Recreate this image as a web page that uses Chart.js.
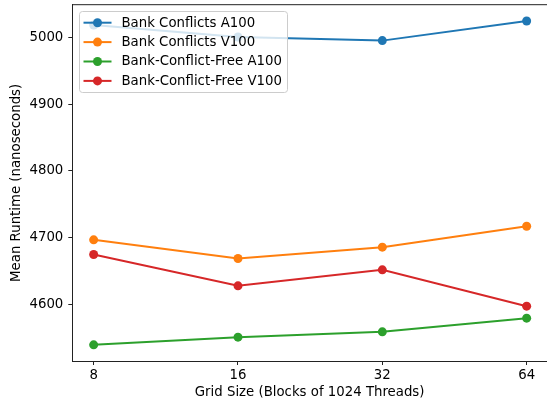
<!DOCTYPE html>
<html lang="en">
<head>
<meta charset="UTF-8">
<title>Mean Runtime vs Grid Size</title>
<style>
  html, body { margin: 0; padding: 0; background: #ffffff; }
  canvas { display: block; }
</style>
</head>
<body>
<canvas id="chart" width="547" height="405"></canvas>

<script src="https://cdn.jsdelivr.net/npm/chart.js"></script>
<script>
    // values
    const gridSizes = ['8', '16', '32', '64'];
    const bankConflictsA100 = [5019, 5001, 4995.5, 5025];
    const bankConflictsV100 = [4696.5, 4668.5, 4685.5, 4717];
    const conflictFreeA100 = [4539, 4550.5, 4558.5, 4579];
    const conflictFreeV100 = [4674.5, 4627.5, 4651.5, 4597];
    const yTicks = [4600, 4700, 4800, 4900, 5000];

    const seriesNames = ['Bank Conflicts A100', 'Bank Conflicts V100', 'Bank-Conflict-Free A100', 'Bank-Conflict-Free V100'];
    const seriesColors = ['#1f77b4', '#ff7f0e', '#2ca02c', '#d62728'];
    const seriesValues = [bankConflictsA100, bankConflictsV100, conflictFreeA100, conflictFreeV100];

    const FONT = 'DejaVu Sans';
    const FSIZE = 13.3;
    const AXIS = '#222222';

    function makeDataset(i) {
        return {
            label: seriesNames[i],
            data: seriesValues[i].map((v, k) => ({x: k, y: v})),
            borderColor: seriesColors[i],
            backgroundColor: seriesColors[i],
            borderWidth: 2,
            pointRadius: 4.5,
            pointBorderWidth: 0,
            pointBackgroundColor: seriesColors[i],
            tension: 0
        };
    }

    // matplotlib style: top spine + legend box inside the axes
    const boxPlugin = {
        id: 'boxPlugin',
        afterDraw(chart) {
            const ctx = chart.ctx;
            const a = chart.chartArea;
            ctx.save();
            ctx.strokeStyle = AXIS;
            ctx.lineWidth = 1;
            ctx.beginPath();
            ctx.moveTo(a.left, a.top);
            ctx.lineTo(a.right, a.top);
            ctx.stroke();

            // legend
            const lx = 79.5, ly = 11.5, lw = 208, lh = 81;
            ctx.beginPath();
            ctx.roundRect(lx, ly, lw, lh, 3);
            ctx.fillStyle = 'rgba(255,255,255,0.8)';
            ctx.fill();
            ctx.strokeStyle = '#cccccc';
            ctx.stroke();

            ctx.font = FSIZE + 'px "' + FONT + '"';
            ctx.textBaseline = 'middle';
            ctx.textAlign = 'left';
            chart.data.datasets.forEach((ds, i) => {
                const y = 22.7 + i * 19.4;
                ctx.strokeStyle = ds.borderColor;
                ctx.lineWidth = 2;
                ctx.beginPath();
                ctx.moveTo(83.5, y);
                ctx.lineTo(111.5, y);
                ctx.stroke();
                ctx.fillStyle = ds.borderColor;
                ctx.beginPath();
                ctx.arc(97.5, y, 4.5, 0, Math.PI * 2);
                ctx.fill();
                ctx.fillStyle = '#000000';
                ctx.fillText(ds.label, 121.5, y + 0.5);
            });
            ctx.restore();
        }
    };

    const ctx = document.getElementById('chart').getContext('2d');
    const chart = new Chart(ctx, {
        type: 'line',
        data: {
            datasets: [0, 1, 2, 3].map(makeDataset)
        },
        options: {
            responsive: false,
            animation: false,
            layout: {autoPadding: false, padding: {top: 4.7, left: 0, right: 0, bottom: 0}},
            plugins: {
                legend: {display: false},
                tooltip: {enabled: false}
            },
            scales: {
                x: {
                    type: 'linear',
                    min: -0.148,
                    max: 3.141,
                    afterBuildTicks: (scale) => {
                        scale.ticks = gridSizes.map((_, i) => ({value: i}));
                    },
                    afterFit: (scale) => {
                        scale.height = 44;
                        scale.paddingLeft = 0;
                        scale.paddingRight = 0;
                    },
                    ticks: {
                        callback: (v) => gridSizes[v],
                        color: '#000000',
                        font: {family: FONT, size: FSIZE},
                        padding: 3,
                        maxRotation: 0
                    },
                    grid: {
                        drawOnChartArea: false,
                        tickLength: 4,
                        tickColor: AXIS
                    },
                    border: {color: AXIS, width: 1},
                    title: {
                        display: true,
                        text: 'Grid Size (Blocks of 1024 Threads)',
                        color: '#000000',
                        font: {family: FONT, size: FSIZE},
                        padding: {top: 0, bottom: 4}
                    }
                },
                y: {
                    min: 4514.7,
                    max: 5049.4,
                    afterBuildTicks: (scale) => {
                        scale.ticks = yTicks.map(v => ({value: v}));
                    },
                    afterFit: (scale) => {
                        scale.width = 72.3;
                        scale.paddingTop = 0;
                        scale.paddingBottom = 0;
                    },
                    ticks: {
                        callback: (v) => String(v),
                        color: '#000000',
                        font: {family: FONT, size: FSIZE},
                        padding: 5
                    },
                    grid: {
                        drawOnChartArea: false,
                        tickLength: 4,
                        tickColor: AXIS
                    },
                    border: {color: AXIS, width: 1},
                    title: {
                        display: true,
                        text: 'Mean Runtime (nanoseconds)',
                        color: '#000000',
                        font: {family: FONT, size: FSIZE},
                        padding: {top: 9, bottom: 0}
                    }
                }
            }
        },
        plugins: [boxPlugin]
    });
</script>
</body>
</html>
